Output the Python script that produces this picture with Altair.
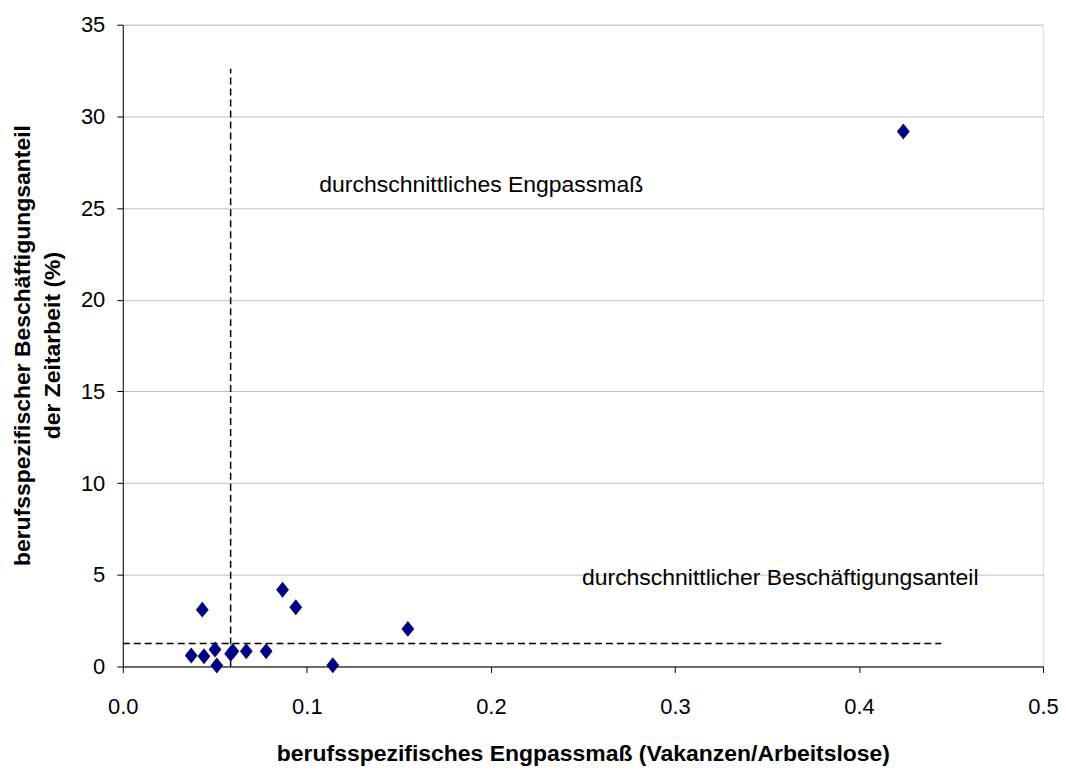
import altair as alt
import pandas as pd

# data
engpass = [0.0372, 0.0441, 0.0432, 0.0501, 0.0511, 0.0586, 0.0598, 0.0671,
           0.0779, 0.0868, 0.0940, 0.1141, 0.1549, 0.4241]
anteil = [0.60, 0.56, 3.10, 0.93, 0.05, 0.69, 0.83, 0.83,
          0.83, 4.19, 3.23, 0.07, 2.05, 29.18]

avg_engpass = 0.0586
avg_engpass_top = 32.6
avg_anteil = 1.25
avg_anteil_right = 0.4447

label_texts = ["durchschnittliches Engpassmaß", "durchschnittlicher Beschäftigungsanteil"]
label_x = [0.1068, 0.2495]
label_y = [26.24, 4.85]

x_title = "berufsspezifisches Engpassmaß (Vakanzen/Arbeitslose)"
y_title = ["berufsspezifischer Beschäftigungsanteil", "der Zeitarbeit (%)"]

FONT = "Liberation Sans"

pts = pd.DataFrame({"x": engpass, "y": anteil})
vline = pd.DataFrame({"x": [avg_engpass], "y": [0.0], "y2": [avg_engpass_top]})
hline = pd.DataFrame({"x": [0.0], "x2": [avg_anteil_right], "y": [avg_anteil]})
labels = pd.DataFrame({"t": label_texts, "x": label_x, "y": label_y})

xscale = alt.Scale(domain=[0, 0.5], nice=False, zero=True)
yscale = alt.Scale(domain=[0, 35], nice=False)

xaxis = alt.Axis(title=x_title, values=[0, 0.1, 0.2, 0.3, 0.4, 0.5], format=".1f",
                 grid=False, tickSize=6, labelPadding=24, titlePadding=25,
                 labelFontSize=22, titleFontSize=23, titleFontWeight="bold",
                 labelFont=FONT, titleFont=FONT, labelColor="black", titleColor="black",
                 domainColor="black", tickColor="black", labelFlush=False)
yaxis = alt.Axis(title=y_title, values=[0, 5, 10, 15, 20, 25, 30, 35], format="d",
                 grid=True, gridColor="#c0c0c0", gridWidth=1,
                 tickSize=6, labelPadding=12,
                 labelFontSize=22, titleFontSize=23, titleFontWeight="bold",
                 labelFont=FONT, titleFont=FONT, labelColor="black", titleColor="black",
                 domainColor="black", tickColor="black",
                 titleAngle=-90, titleAlign="center", titleBaseline="top",
                 titleX=-111, titleY=321, titleLineHeight=30, labelFlush=False)

points = alt.Chart(pts).mark_point(
    shape="M-0.8,0L0,-1L0.8,0L0,1Z", filled=True, size=256, color="#000080", opacity=1
).encode(
    x=alt.X("x:Q", scale=xscale, axis=xaxis),
    y=alt.Y("y:Q", scale=yscale, axis=yaxis),
)

v = alt.Chart(vline).mark_rule(color="black", strokeWidth=1.5, strokeDash=[7, 4]).encode(
    x="x:Q", y="y:Q", y2="y2:Q")
h = alt.Chart(hline).mark_rule(color="black", strokeWidth=1.5, strokeDash=[7, 4]).encode(
    x="x:Q", x2="x2:Q", y="y:Q")

txt = alt.Chart(labels).mark_text(align="left", baseline="middle", fontSize=23,
                                  font=FONT, color="black").encode(
    x="x:Q", y="y:Q", text="t:N")

chart = alt.layer(h, v, points, txt).properties(
    width=922, height=643,
    autosize=alt.AutoSizeParams(type="none"),
    padding={"left": 115, "top": 16, "right": 15, "bottom": 102},
).configure_view(stroke=None).configure(background="white")

chart.save("out.html", embed_options={"renderer": "svg", "actions": False})
